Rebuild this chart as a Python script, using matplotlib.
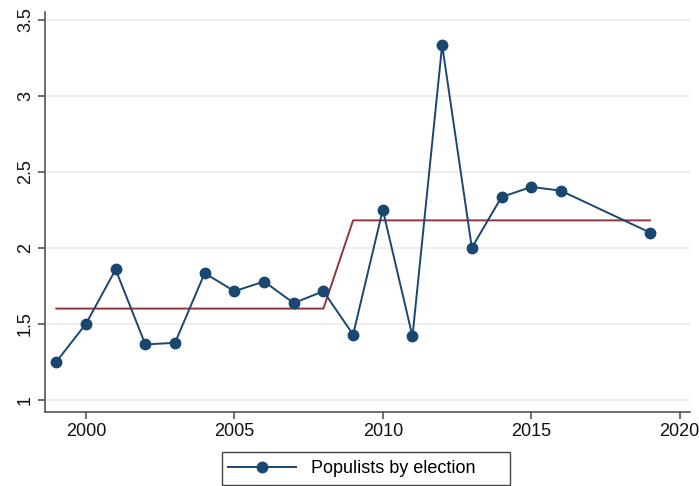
import matplotlib
matplotlib.use("Agg")
import matplotlib.pyplot as plt
from matplotlib.patches import Rectangle
from matplotlib.ticker import FuncFormatter

plt.rcParams['font.family'] = ['Liberation Sans', 'DejaVu Sans']

# Populist party count per election year
years = [1999, 2000, 2001, 2002, 2003, 2004, 2005, 2006, 2007, 2008,
         2009, 2010, 2011, 2012, 2013, 2014, 2015, 2016, 2019]
populists = [1.25, 1.5, 1.857, 1.364, 1.375, 1.833, 1.714, 1.778, 1.636, 1.714,
             1.429, 2.25, 1.417, 3.333, 2.0, 2.333, 2.4, 2.375, 2.1]

# Period means (before / after 2009)
mean_years = [1999, 2008, 2009, 2019]
mean_values = [1.6, 1.6, 2.18, 2.18]

x_ticks = [2000, 2005, 2010, 2015, 2020]
y_ticks = [1, 1.5, 2, 2.5, 3, 3.5]

navy = '#1a476f'
maroon = '#90353b'

W, H = 699, 486
fig = plt.figure(figsize=(W / 100, H / 100), dpi=100)
ax = fig.add_axes([45 / W, 1 - 412 / H, 645 / W, 400 / H])

for y in y_ticks:
    ax.axhline(y, color='#eaeeee', lw=1.3, zorder=0)

ax.plot(mean_years, mean_values, color=maroon, lw=1.4, zorder=2)
line, = ax.plot(years, populists, color=navy, lw=1.4, marker='o', ms=7.5,
                markeredgecolor=navy, markerfacecolor=navy, zorder=3,
                label='Populists by election')

ax.set_xlim(1998.62, 2020.35)
ax.set_ylim(0.92, 3.55)
ax.set_xticks(x_ticks)
ax.set_yticks(y_ticks)
ax.yaxis.set_major_formatter(FuncFormatter(lambda v, p: f'{v:g}'))

for side in ('top', 'right'):
    ax.spines[side].set_visible(False)
for side in ('left', 'bottom'):
    ax.spines[side].set_color('#555555')
    ax.spines[side].set_linewidth(1.2)

ax.tick_params(axis='both', direction='out', length=5, width=1.2,
               color='#555555', labelsize=13, labelcolor='#111111')
ax.tick_params(axis='x', pad=3)
ax.tick_params(axis='y', pad=3)
for lab in ax.get_yticklabels():
    lab.set_rotation(90)
    lab.set_va('center')

# Legend box
fig.patches.append(Rectangle((222 / W, 1 - 485 / H), 288 / W, 33 / H,
                             transform=fig.transFigure, fill=False,
                             edgecolor='#444444', lw=1.0))
leg = fig.legend(handles=[line], loc='center left',
                 bbox_to_anchor=(224 / W, 1 - 468.5 / H),
                 frameon=False, fontsize=13, handlelength=3.8, borderpad=0.2,
                 handletextpad=0.8, borderaxespad=0)

fig.savefig('out.png', dpi=100, facecolor='white')
